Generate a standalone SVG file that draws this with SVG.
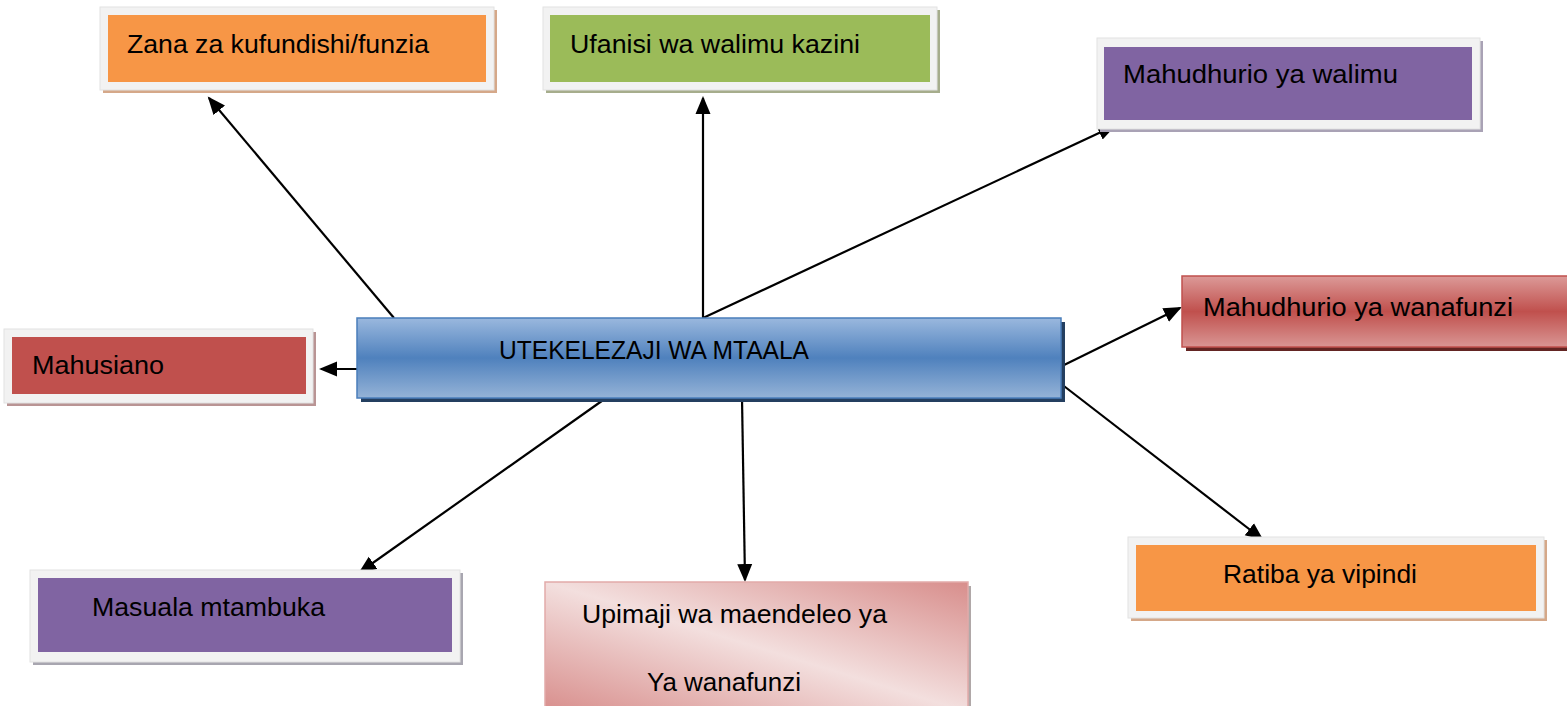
<svg xmlns="http://www.w3.org/2000/svg" width="1567" height="706" viewBox="0 0 1567 706">
<style>
  .frame { fill: #f2f2f2; stroke: #e2e2e2; stroke-width: 1; }
  .lbl { font-family: "Liberation Sans", Arial, sans-serif; font-size: 26px; fill: #000; }
  .conn { stroke: #000; stroke-width: 2.2; fill: none; marker-end: url(#arrow); }
</style>
<defs>
  <marker id="arrow" markerUnits="userSpaceOnUse" markerWidth="20" markerHeight="16" refX="16" refY="8" orient="auto">
    <path d="M0,0.5 L18,8 L0,15.5 z" fill="#000"/>
  </marker>
  <linearGradient id="gBlue" x1="0" y1="0" x2="0" y2="1">
    <stop offset="0" stop-color="#9ab8de"/>
    <stop offset="0.5" stop-color="#4f81bd"/>
    <stop offset="1" stop-color="#95b3d7"/>
  </linearGradient>
  <linearGradient id="gRed" x1="0" y1="0" x2="0" y2="1">
    <stop offset="0" stop-color="#dc9a98"/>
    <stop offset="0.5" stop-color="#c0504d"/>
    <stop offset="1" stop-color="#d99694"/>
  </linearGradient>
  <linearGradient id="gPink" x1="1" y1="0" x2="0" y2="1">
    <stop offset="0" stop-color="#d88e8c"/>
    <stop offset="0.5" stop-color="#f3dfde"/>
    <stop offset="1" stop-color="#d88e8c"/>
  </linearGradient>
</defs>

<g id="connectors">
  <line class="conn" x1="394" y1="318" x2="209" y2="98"/>
  <line class="conn" x1="703" y1="318" x2="703" y2="98"/>
  <line class="conn" x1="703" y1="318" x2="1114" y2="126"/>
  <line class="conn" x1="357" y1="369" x2="321" y2="369"/>
  <line class="conn" x1="1060" y1="367" x2="1180" y2="308"/>
  <line class="conn" x1="1060" y1="383" x2="1262" y2="539"/>
  <line class="conn" x1="742" y1="398" x2="745" y2="580"/>
  <line class="conn" x1="606" y1="398" x2="360" y2="572"/>
</g>

<g id="node-center">
  <rect x="361" y="322" width="704" height="80" fill="#243f60"/>
  <rect x="357" y="318" width="704" height="80" fill="url(#gBlue)" stroke="#4a7ebb" stroke-width="1.5"/>
  <text class="lbl" x="499" y="359" font-size="25" textLength="310" lengthAdjust="spacingAndGlyphs">UTEKELEZAJI WA MTAALA</text>
</g>

<g id="node-zana">
  <rect x="103" y="10" width="394" height="83" fill="#d5a889"/>
  <rect class="frame" x="100" y="7" width="394" height="83"/>
  <rect x="108" y="15" width="378" height="67" fill="#f79646"/>
  <text class="lbl" x="127" y="53" textLength="302" lengthAdjust="spacingAndGlyphs">Zana za kufundishi/funzia</text>
</g>

<g id="node-ufanisi">
  <rect x="546" y="10" width="394" height="83" fill="#a6ad8c"/>
  <rect class="frame" x="543" y="7" width="394" height="83"/>
  <rect x="550" y="15" width="380" height="67" fill="#9bbb59"/>
  <text class="lbl" x="570" y="53" textLength="290" lengthAdjust="spacingAndGlyphs">Ufanisi wa walimu kazini</text>
</g>

<g id="node-walimu">
  <rect x="1100" y="41" width="383" height="91" fill="#a9a2b5"/>
  <rect class="frame" x="1097" y="38" width="383" height="91"/>
  <rect x="1104" y="47" width="368" height="73" fill="#8064a2"/>
  <text class="lbl" x="1123" y="83" textLength="275" lengthAdjust="spacingAndGlyphs">Mahudhurio ya walimu</text>
</g>

<g id="node-mahusiano">
  <rect x="7" y="332" width="309" height="74" fill="#b99494"/>
  <rect class="frame" x="4" y="329" width="309" height="74"/>
  <rect x="12" y="337" width="294" height="57" fill="#c0504d"/>
  <text class="lbl" x="32" y="374" textLength="132" lengthAdjust="spacingAndGlyphs">Mahusiano</text>
</g>

<g id="node-wanafunzi">
  <rect x="1186" y="280" width="400" height="71" fill="#632523"/>
  <rect x="1182" y="276" width="400" height="71" fill="url(#gRed)" stroke="#c0504d" stroke-width="1.5"/>
  <text class="lbl" x="1203" y="316" textLength="310" lengthAdjust="spacingAndGlyphs">Mahudhurio ya wanafunzi</text>
</g>

<g id="node-ratiba">
  <rect x="1131" y="540" width="416" height="81" fill="#d5a889"/>
  <rect class="frame" x="1128" y="537" width="416" height="81"/>
  <rect x="1136" y="545" width="400" height="66" fill="#f79646"/>
  <text class="lbl" x="1223" y="583" textLength="194" lengthAdjust="spacingAndGlyphs">Ratiba ya vipindi</text>
</g>

<g id="node-masuala">
  <rect x="33" y="573" width="430" height="92" fill="#a8a6b0"/>
  <rect class="frame" x="30" y="570" width="430" height="92"/>
  <rect x="38" y="578" width="414" height="74" fill="#8064a2"/>
  <text class="lbl" x="92" y="616" textLength="233" lengthAdjust="spacingAndGlyphs">Masuala mtambuka</text>
</g>

<g id="node-upimaji">
  <rect x="548" y="586" width="423" height="130" fill="#b0a8a8"/>
  <rect x="545" y="582" width="423" height="130" fill="url(#gPink)" stroke="#e2aaa9" stroke-width="1.5"/>
  <text class="lbl" x="582" y="623" textLength="305" lengthAdjust="spacingAndGlyphs">Upimaji wa maendeleo ya</text>
  <text class="lbl" x="647" y="691" textLength="154" lengthAdjust="spacingAndGlyphs">Ya wanafunzi</text>
</g>
</svg>
